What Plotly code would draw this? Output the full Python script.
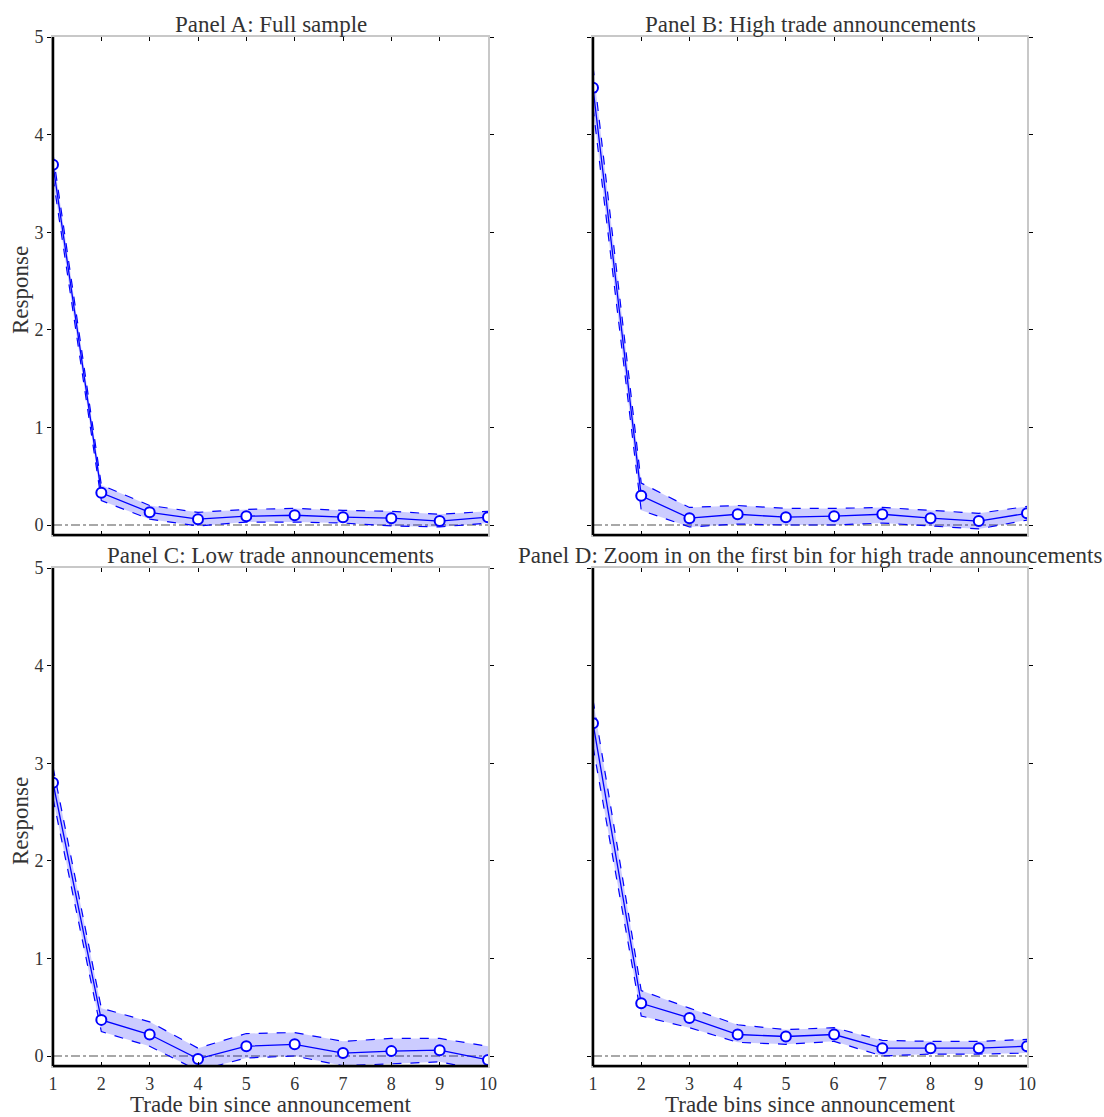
import plotly.graph_objects as go

bins = [1, 2, 3, 4, 5, 6, 7, 8, 9, 10]
y_ticks = [0, 1, 2, 3, 4, 5]

titles = ["Panel A: Full sample", "Panel B: High trade announcements",
          "Panel C: Low trade announcements",
          "Panel D: Zoom in on the first bin for high trade announcements"]
x_titles = ["Trade bin since announcement", "Trade bins since announcement"]
y_title = "Response"

a_mid = [3.69, 0.33, 0.13, 0.06, 0.09, 0.10, 0.08, 0.07, 0.04, 0.08]
a_up = [3.80, 0.41, 0.20, 0.13, 0.16, 0.17, 0.15, 0.14, 0.11, 0.14]
a_lo = [3.56, 0.25, 0.06, -0.01, 0.03, 0.03, 0.02, -0.01, -0.02, 0.02]

b_mid = [4.48, 0.30, 0.07, 0.11, 0.08, 0.09, 0.11, 0.07, 0.04, 0.12]
b_up = [4.70, 0.43, 0.18, 0.20, 0.17, 0.17, 0.18, 0.15, 0.12, 0.19]
b_lo = [4.28, 0.15, -0.02, 0.01, 0.00, 0.00, 0.02, -0.01, -0.04, 0.05]

c_mid = [2.80, 0.37, 0.22, -0.03, 0.10, 0.12, 0.03, 0.05, 0.06, -0.04]
c_up = [2.96, 0.49, 0.35, 0.08, 0.23, 0.24, 0.15, 0.18, 0.18, 0.10]
c_lo = [2.64, 0.25, 0.10, -0.15, -0.02, 0.00, -0.10, -0.08, -0.06, -0.16]

d_mid = [3.41, 0.54, 0.39, 0.22, 0.20, 0.22, 0.08, 0.08, 0.08, 0.10]
d_up = [3.65, 0.67, 0.49, 0.32, 0.27, 0.29, 0.16, 0.15, 0.15, 0.17]
d_lo = [3.17, 0.41, 0.29, 0.14, 0.12, 0.15, 0.00, 0.02, 0.02, 0.03]

panels = [(a_mid, a_up, a_lo), (b_mid, b_up, b_lo), (c_mid, c_up, c_lo), (d_mid, d_up, d_lo)]
zero_line = [0] * len(bins)

W, H = 1104, 1117
FONT = "Liberation Serif"
BLUE = "#0000ff"
TXT = "#333333"

# pixel boxes (left, right, top, bottom)
boxes = [(53, 488, 37, 535), (593, 1027, 37, 535), (53, 488, 568, 1066), (593, 1027, 568, 1066)]

fig = go.Figure()
for i, (mid, up, lo) in enumerate(panels):
    n = "" if i == 0 else str(i + 1)
    xa, ya = "x" + n, "y" + n
    fig.add_trace(go.Scatter(x=bins, y=zero_line, mode="lines", xaxis=xa, yaxis=ya,
                             line=dict(color="#8c8c8c", width=1.6, dash="dashdot"),
                             showlegend=False, hoverinfo="skip"))
    fig.add_trace(go.Scatter(x=bins, y=lo, mode="lines", xaxis=xa, yaxis=ya,
                             line=dict(color=BLUE, width=1.2, dash="dash"), showlegend=False))
    fig.add_trace(go.Scatter(x=bins, y=up, mode="lines", xaxis=xa, yaxis=ya, fill="tonexty",
                             fillcolor="rgba(0,0,255,0.2)",
                             line=dict(color=BLUE, width=1.2, dash="dash"), showlegend=False))
    fig.add_trace(go.Scatter(x=bins, y=mid, mode="lines+markers", xaxis=xa, yaxis=ya,
                             line=dict(color=BLUE, width=1.3),
                             marker=dict(size=10, color="white", line=dict(color=BLUE, width=2)),
                             showlegend=False, cliponaxis=True))

    l, r, t, b = boxes[i]
    xd = [l / W, r / W]
    yd = [1 - b / H, 1 - t / H]
    common = dict(showgrid=False, zeroline=False, showline=True, linecolor="#c8c8c8",
                  linewidth=2, mirror="ticks", tickcolor="black", ticklen=4, tickwidth=1,
                  automargin=False,
                  tickfont=dict(family=FONT, size=18, color=TXT))
    fig.layout["xaxis" + n] = dict(domain=xd, anchor=ya, range=[1, 10], tickvals=bins,
                                   ticks="inside", showticklabels=(i >= 2), **common)
    fig.layout["yaxis" + n] = dict(domain=yd, anchor=xa, range=[-0.1025, 5], tickvals=y_ticks,
                                   ticks="outside", showticklabels=(i % 2 == 0), **common)
    # black left and bottom spines
    fig.add_shape(type="line", xref=xa + " domain", yref=ya + " domain", x0=0, x1=0, y0=0, y1=1,
                  line=dict(color="black", width=2.5), layer="above")
    fig.add_shape(type="line", xref=xa + " domain", yref=ya + " domain", x0=0, x1=1, y0=0, y1=0,
                  line=dict(color="black", width=2.5), layer="above")
    # title
    fig.add_annotation(text=titles[i], xref="paper", yref="paper", x=(l + r) / 2 / W,
                       y=1 - (t - 13) / H, xanchor="center", yanchor="middle", showarrow=False,
                       font=dict(family=FONT, size=23, color=TXT))
    if i % 2 == 0:
        fig.add_annotation(text=y_title, xref="paper", yref="paper", x=20 / W,
                           y=1 - ((t + b) / 2 + 4) / H, textangle=-90, xanchor="center",
                           yanchor="middle", showarrow=False,
                           font=dict(family=FONT, size=23, color=TXT))
    if i >= 2:
        fig.add_annotation(text=x_titles[i - 2], xref="paper", yref="paper", x=(l + r) / 2 / W,
                           y=1 - 1104 / H, xanchor="center", yanchor="middle", showarrow=False,
                           font=dict(family=FONT, size=23, color=TXT))

fig.update_layout(width=W, height=H, margin=dict(l=0, r=0, t=0, b=0),
                  paper_bgcolor="white", plot_bgcolor="white", showlegend=False)
fig.write_html("out.html")
